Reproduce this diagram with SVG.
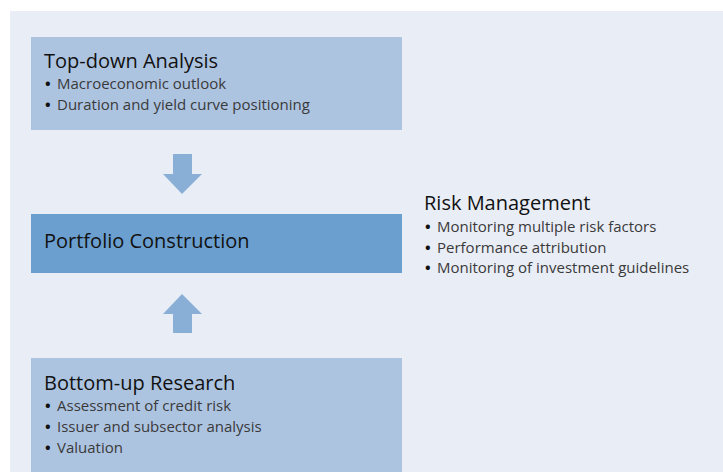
<svg xmlns="http://www.w3.org/2000/svg" width="723" height="472" viewBox="0 0 723 472">
<style>
.title{font-family:"Open Sans","Noto Sans",sans-serif;font-size:20px;fill:#111}
.item{font-family:"Open Sans","Noto Sans",sans-serif;font-size:15px;fill:#3a3a3a}
.b{fill:#111;font-weight:bold}
.light{fill:#adc4e1}
.dark{fill:#6b9fcf}
.arrow{fill:#8aafd7}
</style>
<rect x="0" y="0" width="723" height="472" fill="#ffffff"/>
<rect x="10" y="11" width="713" height="461" fill="#e9edf6"/>
<g id="top-down">
<rect class="light" x="31" y="37" width="371" height="93"/>
<text class="title" x="44" y="68">Top-down Analysis</text>
<text class="item" y="89"><tspan class="b" x="45">•</tspan><tspan x="57">Macroeconomic outlook</tspan></text>
<text class="item" y="110"><tspan class="b" x="45">•</tspan><tspan x="57">Duration and yield curve positioning</tspan></text>
</g>
<g id="portfolio">
<rect class="dark" x="31" y="214" width="371" height="59"/>
<text class="title" x="44" y="248">Portfolio Construction</text>
</g>
<g id="bottom-up">
<rect class="light" x="31" y="358" width="371" height="114"/>
<text class="title" x="44" y="390">Bottom-up Research</text>
<text class="item" y="411"><tspan class="b" x="45">•</tspan><tspan x="57">Assessment of credit risk</tspan></text>
<text class="item" y="432"><tspan class="b" x="45">•</tspan><tspan x="57">Issuer and subsector analysis</tspan></text>
<text class="item" y="453"><tspan class="b" x="45">•</tspan><tspan x="57">Valuation</tspan></text>
</g>
<g id="risk">
<text class="title" x="424" y="210">Risk Management</text>
<text class="item" y="232"><tspan class="b" x="425">•</tspan><tspan x="437">Monitoring multiple risk factors</tspan></text>
<text class="item" y="253"><tspan class="b" x="425">•</tspan><tspan x="437">Performance attribution</tspan></text>
<text class="item" y="273"><tspan class="b" x="425">•</tspan><tspan x="437">Monitoring of investment guidelines</tspan></text>
</g>
<g id="connectors">
<polygon class="arrow" points="173,154 192,154 192,174 202,174 182,194 163,174 173,174"/>
<polygon class="arrow" points="182,294 202,314 192,314 192,333 173,333 173,314 163,314"/>
</g>
</svg>
